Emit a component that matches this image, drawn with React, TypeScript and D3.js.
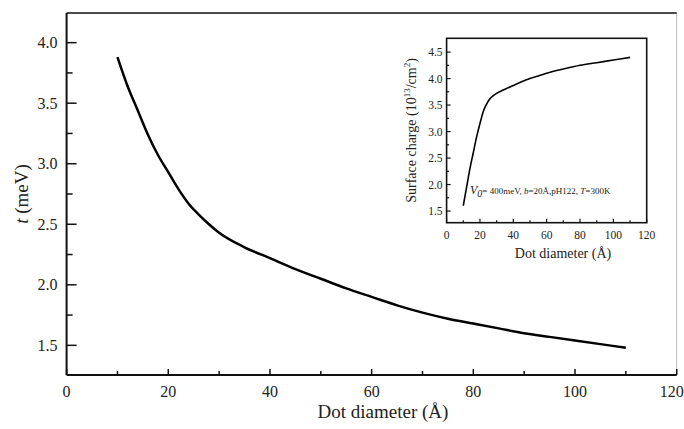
import React from 'react';
import * as d3 from 'd3';

// main curve: hopping t (meV) vs dot diameter (Å)
const diameters = [10, 12, 14, 16, 18, 20, 22, 24, 26, 28, 30, 35, 40, 45, 50, 55, 60, 65, 70, 75, 80, 85, 90, 95, 100, 105, 110];
const hopping = [3.88, 3.64, 3.44, 3.24, 3.07, 2.93, 2.79, 2.67, 2.58, 2.5, 2.43, 2.31, 2.22, 2.13, 2.05, 1.97, 1.9, 1.83, 1.77, 1.72, 1.68, 1.64, 1.6, 1.57, 1.54, 1.51, 1.48];

// inset: surface charge (10^13/cm^2) vs dot diameter
const insetDiameters = [10, 12, 14, 16, 18, 20, 22, 24, 26, 28, 30, 35, 40, 45, 50, 55, 60, 70, 80, 90, 100, 110];
const surfaceCharge = [1.6, 1.95, 2.3, 2.6, 2.9, 3.15, 3.38, 3.52, 3.62, 3.68, 3.72, 3.8, 3.87, 3.94, 4.0, 4.05, 4.1, 4.18, 4.25, 4.3, 4.35, 4.4];

const xTicks = [0, 20, 40, 60, 80, 100, 120];
const xMinor = [10, 30, 50, 70, 90, 110];
const yTicks = [1.5, 2.0, 2.5, 3.0, 3.5, 4.0];
const yMinor = [1.75, 2.25, 2.75, 3.25, 3.75];
const insetYTicks = [1.5, 2.0, 2.5, 3.0, 3.5, 4.0, 4.5];
const insetYMinor = [1.75, 2.25, 2.75, 3.25, 3.75, 4.25];

const font = '"Liberation Serif", "DejaVu Serif", serif';

export default function App() {
  const width = 684;
  const height = 429;

  const x = d3.scaleLinear().domain([0, 120]).range([66.6, 676.7]);
  const y = d3.scaleLinear().domain([1.255, 4.245]).range([375, 13]);

  const ix = d3.scaleLinear().domain([0, 120]).range([446.6, 646.7]);
  const iy = d3.scaleLinear().domain([1.28, 4.76]).range([222.7, 38.3]);

  const mainLine = d3.line<number>()
    .x((d, i) => x(diameters[i]))
    .y(d => y(d))
    .curve(d3.curveMonotoneX);

  const insetLine = d3.line<number>()
    .x((d, i) => ix(insetDiameters[i]))
    .y(d => iy(d))
    .curve(d3.curveMonotoneX);

  const [x0, x1] = x.range();
  const [y0, y1] = y.range();
  const [ix0, ix1] = ix.range();
  const [iy0, iy1] = iy.range();

  return (
    <svg width={width} height={height} style={{ position: 'absolute', left: 0, top: 0, background: '#fff' }} fontFamily={font}>
      {/* main frame */}
      <line x1={x1} x2={x1} y1={y1} y2={y0} stroke="#bbb" strokeWidth={1} />
      <line x1={x0} x2={x1} y1={y1} y2={y1} stroke="#111" strokeWidth={1.5} />
      <line x1={x0} x2={x0} y1={y1} y2={y0} stroke="#111" strokeWidth={2} />
      <line x1={x0} x2={x1} y1={y0} y2={y0} stroke="#111" strokeWidth={2} />

      {/* main x ticks */}
      {xTicks.map(t => (
        <g key={'x' + t}>
          <line x1={x(t)} x2={x(t)} y1={y0} y2={y0 - 6} stroke="#111" strokeWidth={1.5} />
          <text x={x(t)} y={y0 + 22} textAnchor={t === 120 ? 'end' : 'middle'} dx={t === 120 ? 7 : 0} fontSize={16} fill="#222">{t}</text>
        </g>
      ))}
      {xMinor.map(t => (
        <line key={'xm' + t} x1={x(t)} x2={x(t)} y1={y0} y2={y0 - 4} stroke="#111" strokeWidth={1.5} />
      ))}

      {/* main y ticks */}
      {yTicks.map(t => (
        <g key={'y' + t}>
          <line x1={x0} x2={x0 + 10} y1={y(t)} y2={y(t)} stroke="#111" strokeWidth={1.5} />
          <text x={x0 - 9} y={y(t) + 5.5} textAnchor="end" fontSize={16} fill="#222">{t.toFixed(1)}</text>
        </g>
      ))}
      {yMinor.map(t => (
        <line key={'ym' + t} x1={x0} x2={x0 + 6} y1={y(t)} y2={y(t)} stroke="#111" strokeWidth={1.5} />
      ))}

      <path d={mainLine(hopping) ?? ''} fill="none" stroke="#000" strokeWidth={2.5} />

      {/* main axis titles */}
      <text x={383} y={418} textAnchor="middle" fontSize={19} fill="#222">Dot diameter (Å)</text>
      <text transform={`translate(28,${(y0 + y1) / 2}) rotate(-90)`} textAnchor="middle" fontSize={19} fill="#222">
        <tspan fontStyle="italic">t</tspan> (meV)
      </text>

      {/* inset frame */}
      <rect x={ix0} y={iy1} width={ix1 - ix0} height={iy0 - iy1} fill="none" stroke="#111" strokeWidth={1.6} />
      {xTicks.map(t => (
        <g key={'ix' + t}>
          <line x1={ix(t)} x2={ix(t)} y1={iy0} y2={iy0 - 4} stroke="#111" strokeWidth={1.2} />
          <text x={ix(t)} y={iy0 + 16} textAnchor="middle" fontSize={11.5} fill="#222">{t}</text>
        </g>
      ))}
      {xMinor.map(t => (
        <line key={'ixm' + t} x1={ix(t)} x2={ix(t)} y1={iy0} y2={iy0 - 2.5} stroke="#111" strokeWidth={1.2} />
      ))}
      {insetYTicks.map(t => (
        <g key={'iy' + t}>
          <line x1={ix0} x2={ix0 + 4} y1={iy(t)} y2={iy(t)} stroke="#111" strokeWidth={1.2} />
          <text x={ix0 - 4} y={iy(t) + 4} textAnchor="end" fontSize={11.5} fill="#222">{t.toFixed(1)}</text>
        </g>
      ))}
      {insetYMinor.map(t => (
        <line key={'iym' + t} x1={ix0} x2={ix0 + 2.5} y1={iy(t)} y2={iy(t)} stroke="#111" strokeWidth={1.2} />
      ))}

      <path d={insetLine(surfaceCharge) ?? ''} fill="none" stroke="#000" strokeWidth={1.6} />

      <text x={563} y={258} textAnchor="middle" fontSize={14} fill="#222">Dot diameter (Å)</text>
      <text transform={`translate(416,${(iy0 + iy1) / 2}) rotate(-90)`} textAnchor="middle" fontSize={14} fill="#222">
        Surface charge (10<tspan dy={-6} fontSize={9}>13</tspan><tspan dy={6}>/cm</tspan><tspan dy={-6} fontSize={9}>2</tspan><tspan dy={6}>)</tspan>
      </text>

      <text x={470} y={194} fontSize={9} fill="#222">
        <tspan fontStyle="italic" fontSize={12}>V</tspan><tspan fontStyle="italic" fontSize={10} dy={3}>0</tspan><tspan dy={-3}>= 400meV, </tspan><tspan fontStyle="italic">b</tspan>=20Å,pH122, <tspan fontStyle="italic">T</tspan>=300K
      </text>
    </svg>
  );
}
